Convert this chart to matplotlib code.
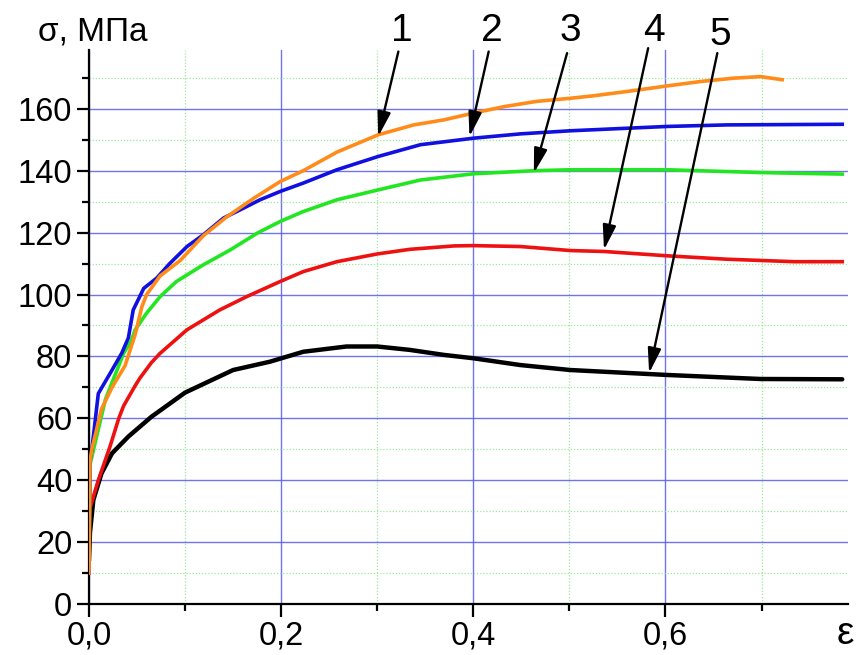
import matplotlib
matplotlib.use("Agg")
import matplotlib.pyplot as plt
from matplotlib.ticker import MultipleLocator, FuncFormatter

plt.rcParams['font.family'] = ['Liberation Sans', 'DejaVu Sans']

# ---- data ----
x1 = [0.0, 0.001, 0.003, 0.013, 0.024, 0.0375, 0.048, 0.055, 0.060, 0.074, 0.095, 0.119, 0.143, 0.171,
      0.199, 0.223, 0.258, 0.301, 0.338, 0.369, 0.400, 0.432, 0.466, 0.501, 0.525, 0.560, 0.602, 0.636,
      0.671, 0.699, 0.7215]
y1 = [10, 46, 50, 63, 70, 77, 87, 96, 100, 106, 111, 119, 125, 131,
      136.5, 140, 146, 151.6, 154.8, 156.4, 158.6, 160.7, 162.4, 163.4, 164.2, 165.6, 167.4, 168.8,
      169.9, 170.4, 169.4]

x2 = [0.0, 0.001, 0.003, 0.0097, 0.024, 0.034, 0.041, 0.046, 0.057, 0.0705, 0.084, 0.102, 0.119, 0.140,
      0.157, 0.178, 0.199, 0.223, 0.258, 0.301, 0.345, 0.400, 0.449, 0.501, 0.602, 0.664, 0.784]
y2 = [10, 46, 50, 68, 75.6, 81, 86, 95, 102, 105.3, 110, 115.5, 119.3, 124.7,
      127.3, 130.6, 133.3, 136, 140.3, 144.6, 148.4, 150.5, 151.9, 152.9, 154.3, 154.8, 155]

x3 = [0.0, 0.001, 0.017, 0.022, 0.031, 0.036, 0.044, 0.048, 0.060, 0.074, 0.091, 0.119, 0.147, 0.175,
      0.199, 0.223, 0.258, 0.301, 0.345, 0.400, 0.463, 0.501, 0.602, 0.699, 0.784]
y3 = [10, 45, 66, 70, 77, 81, 85, 88.6, 94, 99.3, 104.2, 109.6, 114.4, 119.8,
      123.6, 126.8, 130.6, 133.8, 137, 139, 140, 140.3, 140.3, 139.4, 138.9]

x4 = [0.0, 0.001, 0.0097, 0.022, 0.031, 0.036, 0.048, 0.053, 0.065, 0.074, 0.102, 0.136, 0.164, 0.199,
      0.223, 0.258, 0.300, 0.334, 0.380, 0.400, 0.449, 0.501, 0.536, 0.602, 0.664, 0.734, 0.784]
y4 = [25, 31, 40, 51, 60, 64, 70.5, 73, 78, 81, 88.6, 95, 99.3, 104.2,
      107.4, 110.6, 113.1, 114.6, 115.7, 115.8, 115.5, 114.2, 113.9, 112.5, 111.4, 110.6, 110.6]

x5 = [0.0, 0.001, 0.0045, 0.013, 0.024, 0.041, 0.065, 0.100, 0.150, 0.1885, 0.223, 0.268, 0.300, 0.334,
      0.369, 0.400, 0.449, 0.501, 0.602, 0.699, 0.784]
y5 = [14, 23, 33.6, 42.2, 48.7, 54.1, 60.5, 68.3, 75.6, 78.3, 81.5, 83.2, 83.2, 82.1,
      80.5, 79.4, 77.2, 75.6, 74, 72.7, 72.6]

labels = ["1", "2", "3", "4", "5"]
# arrow tips (on curves) and label positions
tip_x = [0.301, 0.396, 0.463, 0.536, 0.583]
tip_y = [151, 151, 139.2, 114.4, 74.6]
lab_x = [0.326, 0.419, 0.501, 0.588, 0.657]
lab_y = [185, 185, 185, 185, 184]
start_x = [0.322, 0.416, 0.4976, 0.582, 0.654]
start_y = [178.5, 178.5, 178, 179.6, 178]

yticks = [0, 20, 40, 60, 80, 100, 120, 140, 160]
xticks = [0.0, 0.2, 0.4, 0.6]

# ---- figure ----
fig = plt.figure(figsize=(8.58, 6.55), dpi=100)
ax = fig.add_axes([89/858, 1-604/655, (848-89)/858, (604-50)/655])

ax.set_xlim(0, 0.79)
ax.set_ylim(0, 179)

ax.xaxis.set_major_locator(MultipleLocator(0.2))
ax.xaxis.set_minor_locator(MultipleLocator(0.1))
ax.yaxis.set_major_locator(MultipleLocator(20))
ax.yaxis.set_minor_locator(MultipleLocator(10))
ax.set_yticks(yticks)
ax.set_xticks(xticks)
ax.xaxis.set_major_formatter(FuncFormatter(lambda v, p: f"{v:.1f}".replace(".", ",")))

ax.grid(which='major', color='#5a5ae6', lw=1.0, alpha=0.85)
ax.grid(which='minor', color='#9be89b', lw=0.9, ls=(0, (1, 1.5)))
ax.set_axisbelow(True)

for s in ['top', 'right']:
    ax.spines[s].set_visible(False)
for s in ['left', 'bottom']:
    ax.spines[s].set_linewidth(1.6)

ax.tick_params(which='major', direction='out', length=9, width=1.6, labelsize=23.5, pad=3)
ax.tick_params(which='minor', direction='out', length=5, width=1.6)

ax.plot(x5, y5, color='black', lw=3.2, solid_capstyle='round', zorder=3)
ax.plot(x4, y4, color='#ee1111', lw=2.6, zorder=3)
ax.plot(x3, y3, color='#22e622', lw=2.6, zorder=3)
ax.plot(x2, y2, color='#1010e0', lw=2.6, zorder=3)
ax.plot(x1, y1, color='#ff8c1a', lw=2.6, zorder=4)

for i in range(5):
    ax.annotate("", xy=(tip_x[i], tip_y[i]), xytext=(start_x[i], start_y[i]),
                arrowprops=dict(arrowstyle='-|>,head_length=0.75,head_width=0.2',
                                mutation_scale=20,
                                color='black', lw=1.7, shrinkA=0, shrinkB=0),
                annotation_clip=False, zorder=5)
    ax.text(lab_x[i], lab_y[i], labels[i], fontsize=28, ha='center', va='center',
            clip_on=False)

fig.text(38/858, 1-32/655, "σ, МПа", fontsize=24, ha='left', va='center')
fig.text(845/858, 1-634/655, "ε", fontsize=28, ha='center', va='center')

fig.savefig("out.png", dpi=100)
